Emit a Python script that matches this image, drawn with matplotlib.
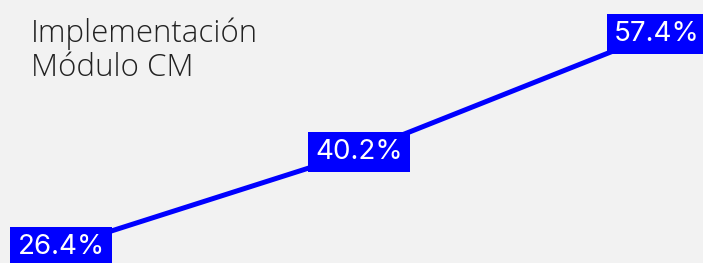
import matplotlib
matplotlib.use("Agg")
import matplotlib.pyplot as plt

stages = ["Etapa 1", "Etapa 2", "Etapa 3"]
values = [26.4, 40.2, 57.4]
labels = ["26.4%", "40.2%", "57.4%"]
title_lines = ["Implementación", "Módulo CM"]

blue = "#0000ff"
bg = "#f2f2f2"

fig = plt.figure(figsize=(7.03, 2.63), dpi=100, facecolor=bg)
ax = fig.add_axes([0, 0, 1, 1])
ax.set_facecolor(bg)

x = list(range(len(stages)))
ax.plot(x, values, color=blue, lw=3.6, solid_capstyle="butt", zorder=2)

for xi, v, lab in zip(x, values, labels):
    ax.text(xi, v, lab, ha="center", va="center", color="white",
            fontsize=20, family="Inter", zorder=3,
            bbox=dict(boxstyle="square,pad=0.25", fc=blue, ec="none"))

ax.set_xlim(-0.2047, 2.154)
ax.set_ylim(24.08, 62.28)
ax.axis("off")

for i, line in enumerate(title_lines):
    fig.text(31 / 703, 1 - (42 + 34 * i) / 263, line, fontsize=22.5,
             family="Open Sans", fontweight="light", color="#222222",
             va="baseline")

fig.savefig("out.png", dpi=100, facecolor=bg)
